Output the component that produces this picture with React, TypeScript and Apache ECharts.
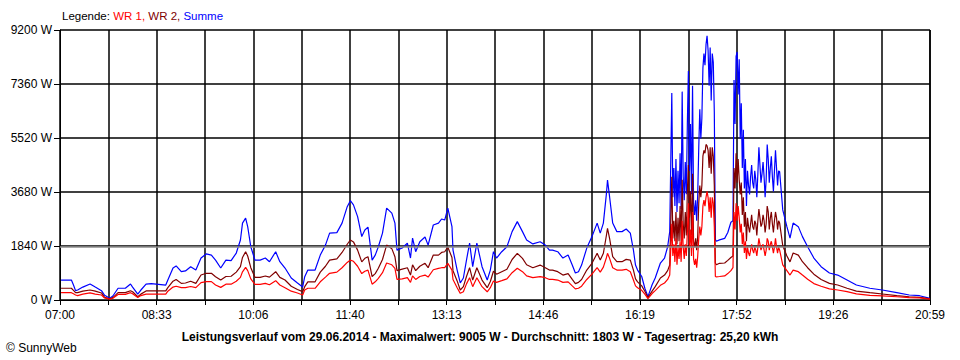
import React, { useEffect, useRef } from "react";
import * as echarts from "echarts";

// ---- data ----
const TIMES = [
  "07:01","07:11","07:13","07:15","07:17","07:22","07:29","07:34","07:40","07:43","07:48","07:51","07:56",
  "08:03","08:08","08:10","08:15","08:18","08:23","08:28","08:42","08:44","08:49","08:52","08:57",
  "09:01","09:06","09:11","09:16","09:21","09:26","09:30","09:35","09:40","09:45","09:50","09:54","09:56","09:59",
  "10:01","10:04","10:08","10:13","10:18","10:22","10:28","10:32","10:37","10:43","10:49","10:54","10:56","10:59",
  "11:06","11:11","11:16","11:20","11:27","11:32","11:37","11:40","11:43","11:47","11:51","11:54","11:57",
  "12:01","12:04","12:07","12:11","12:15","12:20","12:23","12:25","12:30","12:35","12:38","12:40","12:43","12:47","12:52","12:55",
  "13:00","13:05","13:08","13:11","13:14","13:18","13:19","13:23","13:26","13:29","13:32","13:35","13:38","13:42","13:47","13:52","13:55","13:58",
  "14:01","14:06","14:11","14:16","14:21","14:26","14:30","14:36","14:43","14:48","14:52","14:55",
  "15:00","15:05","15:10","15:14","15:17","15:20","15:23","15:28","15:33","15:38","15:41","15:44","15:47","15:48","15:50","15:53","15:57",
  "16:02","16:06","16:10","16:13","16:15","16:17","16:21","16:24","16:27","16:31","16:34","16:39","16:43","16:46","16:48",
  "16:50","16:51","16:52","16:53","16:54","16:55","16:56","16:57","16:58","16:59",
  "17:00","17:01","17:02","17:03","17:04","17:05","17:06","17:07","17:08","17:09",
  "17:10","17:11","17:12","17:13","17:14","17:15","17:16","17:17","17:18","17:19",
  "17:20","17:21","17:22","17:23","17:24","17:25","17:26","17:27","17:28","17:29",
  "17:30","17:31","17:32","17:33","17:36","17:41","17:44","17:47","17:49",
  "17:50","17:51","17:52","17:53","17:54","17:55","17:56","17:57","17:58","17:59",
  "18:00","18:01","18:02","18:03","18:04","18:05","18:06","18:07","18:08","18:09",
  "18:10","18:11","18:12","18:13","18:14","18:15","18:16","18:17","18:18","18:19",
  "18:20","18:21","18:22","18:23","18:24","18:25","18:26","18:27","18:28","18:29",
  "18:30","18:31","18:32","18:33","18:34",
  "18:37","18:41","18:44","18:47","18:52","18:56","19:01","19:07","19:14","19:22","19:30","19:39","19:48",
  "20:01","20:13","20:27","20:39","20:49","20:59"
];

const SUMME = [
  680,680,510,320,340,440,545,440,317,160,60,136,400,
  400,545,440,200,340,540,560,510,680,1090,1160,965,
  990,1135,1020,1430,1570,1530,1360,1090,1360,1340,1600,2044,2620,2790,
  2500,1815,1360,1360,1430,1305,1645,1305,1090,750,580,440,795,1020,
  1020,1530,1870,2280,2295,2620,3180,3385,3240,2840,2160,2385,2485,
  1360,1530,1815,2280,3130,2960,2620,1700,1770,1940,1430,2110,1645,1985,2145,1870,
  2555,2620,2760,2725,3130,2500,1700,1020,580,750,1360,1940,1135,1940,1135,680,1020,1645,
  1430,1645,1815,2330,2670,2330,2045,1910,1985,1870,1700,1700,
  1645,1430,1530,1190,920,965,1190,1770,2160,2620,2280,2620,3640,4090,3520,2620,2330,
  2330,2420,2280,1700,1190,1020,800,400,114,520,750,1260,1430,1815,2330,
  7050,3500,4500,3200,4800,3000,4400,3300,5000,3100,
  7100,4200,3400,4700,3600,6000,7800,4400,6000,3600,
  7300,3300,2900,3400,2700,3600,5200,6500,5500,6200,
  7900,8400,8000,8700,9005,8500,7300,8600,6800,8400,
  8100,6400,2060,2000,2050,2100,2300,2650,2700,
  7500,6000,8300,8450,7000,8200,5500,6700,4500,5800,
  3800,4800,3200,4400,3900,3600,4200,4600,4000,3800,
  4400,4100,3500,4300,5200,4600,4000,4300,4700,4200,
  3500,4100,5300,4800,4000,4500,4900,4200,3700,4400,
  5100,4500,3900,4400,4370,
  3070,2500,2110,2620,2500,2160,1815,1430,1135,920,850,680,510,
  400,340,250,170,146,57
];

const WR2 = [
  400,400,330,250,250,300,340,300,240,90,40,80,250,
  250,317,280,110,200,310,310,310,420,640,700,567,
  580,640,567,850,910,910,795,680,800,810,950,1135,1450,1645,
  1500,1100,772,772,817,780,965,772,680,470,360,284,454,620,
  620,950,1150,1360,1400,1620,1900,2044,1980,1700,1300,1420,1475,
  800,900,1080,1380,1870,1750,1475,1000,1050,1100,850,1200,1000,1150,1250,1100,
  1530,1530,1620,1645,1800,1450,1000,650,340,454,800,1100,680,1100,680,420,630,980,
  880,965,1050,1380,1590,1420,1200,1100,1190,1100,1020,1020,
  965,850,900,700,560,600,700,1020,1250,1590,1360,1590,2215,2440,2100,1475,1305,
  1305,1385,1360,1020,720,620,480,300,80,300,454,750,850,1000,1190,
  4200,2100,2700,2000,3000,1900,2800,2000,3200,2000,
  4100,2600,2100,3000,2200,3700,4600,2800,3700,2200,
  4300,2000,1800,2100,1700,2200,3300,3900,3500,3900,
  4900,5100,5000,5300,5250,5100,4500,5200,4300,5200,
  4900,3900,1260,1200,1250,1260,1350,1450,1500,
  4500,3800,5000,4000,4800,4100,3600,4000,2900,3500,
  2500,3000,2000,2800,2500,2300,2600,2900,2500,2400,
  2700,2600,2200,2700,3100,2800,2500,2600,2900,2700,
  2300,2600,3200,3000,2400,2800,3000,2600,2300,2700,
  3000,2800,2400,2700,2620,
  1850,1500,1300,1600,1530,1305,1100,880,700,567,510,400,300,
  250,204,150,110,90,40
];

const WR1 = [
  250,250,210,170,150,200,240,200,170,70,30,60,190,
  190,250,210,85,150,200,200,200,300,440,470,420,
  420,460,420,590,625,625,510,430,540,540,640,772,960,1113,
  1000,720,534,534,567,520,658,510,420,300,240,170,340,400,
  400,620,780,910,950,1100,1280,1360,1320,1150,900,980,1020,
  540,620,740,930,1260,1200,1080,700,720,760,600,820,700,800,850,780,
  1030,1080,1100,1100,1250,1020,700,420,227,284,550,760,454,760,454,280,420,650,
  600,658,720,930,1080,965,820,760,795,760,700,700,
  680,600,620,480,380,400,470,700,880,1100,950,1120,1450,1590,1420,1100,1020,
  1020,1045,965,680,480,420,330,200,50,220,320,500,580,700,850,
  2600,1500,1900,1300,2100,1200,1800,1400,2000,1300,
  2700,1800,1400,1900,1500,2300,3300,1800,2400,1500,
  3000,1400,1200,1400,1100,1500,2100,2500,2200,2500,
  3200,3400,3200,3500,3700,3500,3000,3500,2800,3500,
  3300,2500,800,790,800,820,900,1000,1100,
  3000,2400,3300,2700,3200,2800,2300,2600,1900,2300,
  1600,2000,1400,1800,1600,1500,1700,1900,1700,1600,
  1800,1700,1500,1800,2100,1900,1700,1800,1900,1700,
  1500,1700,2100,2000,1700,1900,2000,1800,1600,1800,
  2100,1800,1600,1800,1700,
  1200,1000,850,1020,965,850,710,560,470,380,340,284,210,
  160,140,110,80,70,30
];

const X_TICK_LABELS = ["07:00","08:33","10:06","11:40","13:13","14:46","16:19","17:52","19:26","20:59"];
const DAY_START = "07:00";
const DAY_END = "20:59";
const Y_MAX = 9200;
const Y_STEP = 1840;
const AVERAGE = 1803;
const LEGEND_PREFIX = "Legende: ";
const SERIES_NAMES = ["WR 1", "WR 2", "Summe"];
const TITLE = "Leistungsverlauf vom 29.06.2014 - Maximalwert: 9005 W - Durchschnitt: 1803 W - Tagesertrag: 25,20 kWh";
const COPYRIGHT = "© SunnyWeb";

const toMinutes = (s: string) => {
  const [h, m] = s.split(":").map(Number);
  return h * 60 + m;
};
const START = toMinutes(DAY_START);
const SPAN = toMinutes(DAY_END) - START; // 839
const X_STEP = SPAN / 18;

const FONT = "'Liberation Sans', Arial, sans-serif";

export default function App() {
  const ref = useRef<HTMLDivElement>(null);
  useEffect(() => {
    if (!ref.current) return;
    const chart = echarts.init(ref.current, null, { renderer: "svg" });
    const pts = (vals: number[]) => TIMES.map((t, i) => [toMinutes(t) - START, vals[i]]);
    const lineSeries = (name: string, vals: number[], color: string, extra: any = {}) => ({
      type: "line",
      name,
      data: pts(vals),
      showSymbol: false,
      symbol: "none",
      lineStyle: { color, width: 1.2 },
      itemStyle: { color },
      silent: true,
      ...extra,
    });
    chart.setOption({
      animation: false,
      grid: { left: 60, right: 30, top: 30, bottom: 60, containLabel: false },
      xAxis: {
        type: "value",
        min: 0,
        max: SPAN,
        interval: X_STEP,
        axisLine: { show: true, lineStyle: { color: "#000", width: 1 } },
        axisTick: { show: true, length: 5, lineStyle: { color: "#000", width: 1 } },
        axisLabel: {
          color: "#000",
          fontFamily: FONT,
          fontSize: 12,
          margin: 9,
          showMinLabel: true,
          showMaxLabel: true,
          formatter: (v: number) => {
            const i = Math.round(v / X_STEP);
            return i % 2 === 0 ? X_TICK_LABELS[i / 2] ?? "" : "";
          },
        },
        splitLine: { show: true, lineStyle: { color: "#000", width: 1.5 } },
      },
      yAxis: {
        type: "value",
        min: 0,
        max: Y_MAX,
        interval: Y_STEP,
        axisLine: { show: true, lineStyle: { color: "#000", width: 1 } },
        axisTick: { show: true, length: 6, lineStyle: { color: "#000", width: 1 } },
        axisLabel: {
          color: "#000",
          fontFamily: FONT,
          fontSize: 12,
          margin: 8,
          formatter: (v: number) => `${v} W`,
        },
        splitLine: { show: true, lineStyle: { color: "#000", width: 1.5 } },
      },
      series: [
        lineSeries(SERIES_NAMES[2], SUMME, "#0000ff", {
          markLine: {
            silent: true,
            symbol: "none",
            label: { show: false },
            lineStyle: { color: "#8c8c8c", width: 1.5, type: "solid" },
            data: [{ yAxis: AVERAGE }],
          },
        }),
        lineSeries(SERIES_NAMES[1], WR2, "#800000"),
        lineSeries(SERIES_NAMES[0], WR1, "#ff0000"),
      ],
      graphic: [
        {
          type: "text",
          left: 62,
          top: 10,
          style: {
            text: `{k|${LEGEND_PREFIX}}{a|${SERIES_NAMES[0]}, }{b|${SERIES_NAMES[1]}, }{c|${SERIES_NAMES[2]}}`,
            font: `11.5px ${FONT}`,
            rich: {
              k: { fill: "#000", fontSize: 11.5, fontFamily: FONT },
              a: { fill: "#ff0000", fontSize: 11.5, fontFamily: FONT },
              b: { fill: "#800000", fontSize: 11.5, fontFamily: FONT },
              c: { fill: "#0000ff", fontSize: 11.5, fontFamily: FONT },
            },
          },
        },
        {
          type: "text",
          left: "center",
          top: 331,
          style: {
            text: TITLE,
            fill: "#000",
            font: `bold 12px ${FONT}`,
          },
        },
        {
          type: "text",
          left: 6,
          top: 342,
          style: {
            text: COPYRIGHT,
            fill: "#000",
            font: `12px ${FONT}`,
          },
        },
      ],
    });
    return () => chart.dispose();
  }, []);
  return (
    <div
      ref={ref}
      style={{ position: "fixed", left: 0, top: 0, width: 960, height: 360, background: "#fff" }}
    />
  );
}
